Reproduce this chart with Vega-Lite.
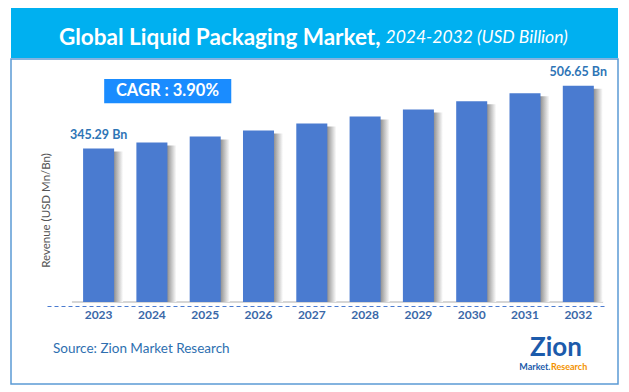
{
  "$schema": "https://vega.github.io/schema/vega-lite/v6.json",
  "background": "white",
  "padding": {"left": 10, "top": 8, "right": 0, "bottom": 0},
  "spacing": 0,
  "config": {"font": "Lato", "concat": {"spacing": 0}},
  "vconcat": [
    {
      "width": 607,
      "height": 50,
      "view": {"fill": "#00b0f0", "stroke": null},
      "data": {"values": [{"a": "Global Liquid Packaging Market,", "b": "2024-2032 (USD Billion)"}]},
      "layer": [
        {"mark": {"type": "text", "font": "Lato", "fontWeight": "bold", "fontSize": 22.5, "color": "white", "align": "right", "baseline": "middle", "dx": 66, "dy": 5}, "encoding": {"text": {"field": "a"}}},
        {"mark": {"type": "text", "font": "Lato", "fontStyle": "italic", "fontSize": 17.5, "color": "white", "align": "left", "baseline": "middle", "dx": 71, "dy": 5}, "encoding": {"text": {"field": "b"}}}
      ]
    },
    {
      "width": 607,
      "height": 325,
      "view": {"stroke": "#5b9bd5", "strokeWidth": 1.5},
      "title": {"text": "Source: Zion Market Research", "orient": "bottom", "anchor": "start", "frame": "group", "dx": 42, "offset": -42, "font": "Lato", "fontSize": 13.5, "fontWeight": "normal", "color": "#2e6fb0"},
      "resolve": {"scale": {"x": "shared", "y": "shared"}},
      "layer": [
        {
          "data": {"values": [{"r": 1}]},
          "mark": {"type": "rule", "color": "#c8c8c8", "strokeWidth": 1.5},
          "encoding": {
            "x": {"datum": "2023", "bandPosition": -0.36, "type": "ordinal"},
            "x2": {"datum": "2032", "bandPosition": 1.3},
            "y": {"datum": -50, "type": "quantitative"}
          }
        },
        {
          "data": {"values": [
            {"year": "2023", "value": 345.29, "label": "345.29 Bn"},
            {"year": "2024", "value": 360.9, "label": ""},
            {"year": "2025", "value": 376.4, "label": ""},
            {"year": "2026", "value": 391.8, "label": ""},
            {"year": "2027", "value": 409.9, "label": ""},
            {"year": "2028", "value": 427.9, "label": ""},
            {"year": "2029", "value": 445.9, "label": ""},
            {"year": "2030", "value": 467.2, "label": ""},
            {"year": "2031", "value": 487.8, "label": ""},
            {"year": "2032", "value": 506.65, "label": "506.65 Bn"}
          ]},
          "encoding": {
            "x": {
              "field": "year", "type": "ordinal", "sort": null,
              "scale": {"type": "band", "domain": ["2023", "2024", "2025", "2026", "2027", "2028", "2029", "2030", "2031", "2032"], "range": [36, 593], "paddingInner": 0.418, "paddingOuter": 0.434, "align": 0.78},
              "axis": {"title": null, "orient": "bottom", "offset": -78, "ticks": false, "bandPosition": 0.5, "labelAngle": 0, "labelAlign": "center", "labelPadding": 8, "labelFont": "Lato", "labelFontWeight": "bold", "labelFontSize": 12, "labelColor": "#3a68a8", "domainColor": "#4a7bd0", "domainWidth": 1, "domainDash": [4, 3], "grid": false}
            },
            "y": {
              "field": "value", "type": "quantitative",
              "scale": {"domain": [-50, 550], "range": [243, 10], "zero": false, "nice": false},
              "axis": {"title": "Revenue (USD Mn/Bn)", "labels": false, "ticks": false, "domain": false, "grid": false, "titleX": 35, "titleY": 151, "titleAngle": -90, "titleBaseline": "middle", "titleAlign": "center", "titleFont": "Lato", "titleFontWeight": "normal", "titleFontSize": 11.5, "titleColor": "#555555"}
            }
          },
          "layer": [
            {
              "mark": {"type": "bar", "xOffset": 9, "yOffset": 3, "y2Offset": 0, "color": {"gradient": "linear", "x1": 0, "x2": 1, "y1": 0, "y2": 0, "stops": [{"offset": 0, "color": "#8a8a8a"}, {"offset": 0.7, "color": "#8f8f8f"}, {"offset": 1, "color": "#ffffff"}]}},
              "encoding": {"y2": {"datum": -50}}
            },
            {
              "mark": {"type": "bar", "color": "#4a7bd0"},
              "encoding": {"y2": {"datum": -50}}
            },
            {
              "mark": {"type": "text", "font": "Lato", "fontWeight": "bold", "fontSize": 12.5, "color": "#2e75b6", "baseline": "middle", "dy": -13.5},
              "encoding": {"text": {"field": "label"}}
            }
          ]
        },
        {
          "data": {"values": [{"t": "CAGR : 3.90%"}]},
          "layer": [
            {
              "mark": {"type": "rect", "color": "#1a8cff"},
              "encoding": {
                "x": {"datum": "2023", "bandPosition": 0.68, "type": "ordinal"},
                "x2": {"datum": "2025", "bandPosition": 1.34},
                "y": {"datum": 524, "type": "quantitative"},
                "y2": {"datum": 462}
              }
            },
            {
              "mark": {"type": "text", "font": "Lato", "fontWeight": "bold", "fontSize": 16.5, "color": "white", "baseline": "middle", "align": "center"},
              "encoding": {
                "x": {"datum": "2024", "bandPosition": 1.0, "type": "ordinal"},
                "y": {"datum": 493, "type": "quantitative"},
                "text": {"field": "t"}
              }
            }
          ]
        },
        {
          "data": {"values": [{"z": "Zion", "m": "Market.", "r": "Research"}]},
          "layer": [
            {
              "mark": {"type": "text", "font": "Lato", "fontWeight": "bold", "fontSize": 26, "color": "#1c5bab", "baseline": "alphabetic", "align": "center"},
              "encoding": {
                "x": {"datum": "2032", "bandPosition": -0.22, "type": "ordinal"},
                "y": {"datum": -189, "type": "quantitative"},
                "text": {"field": "z"}
              }
            },
            {
              "mark": {"type": "text", "font": "Lato", "fontWeight": "bold", "fontSize": 9, "color": "#1c5bab", "baseline": "middle", "align": "right", "dx": -5.5},
              "encoding": {
                "x": {"datum": "2032", "bandPosition": -0.22, "type": "ordinal"},
                "y": {"datum": -217, "type": "quantitative"},
                "text": {"field": "m"}
              }
            },
            {
              "mark": {"type": "text", "font": "Lato", "fontWeight": "bold", "fontSize": 9, "color": "#f39200", "baseline": "middle", "align": "left", "dx": -5},
              "encoding": {
                "x": {"datum": "2032", "bandPosition": -0.22, "type": "ordinal"},
                "y": {"datum": -217, "type": "quantitative"},
                "text": {"field": "r"}
              }
            }
          ]
        }
      ]
    }
  ]
}
